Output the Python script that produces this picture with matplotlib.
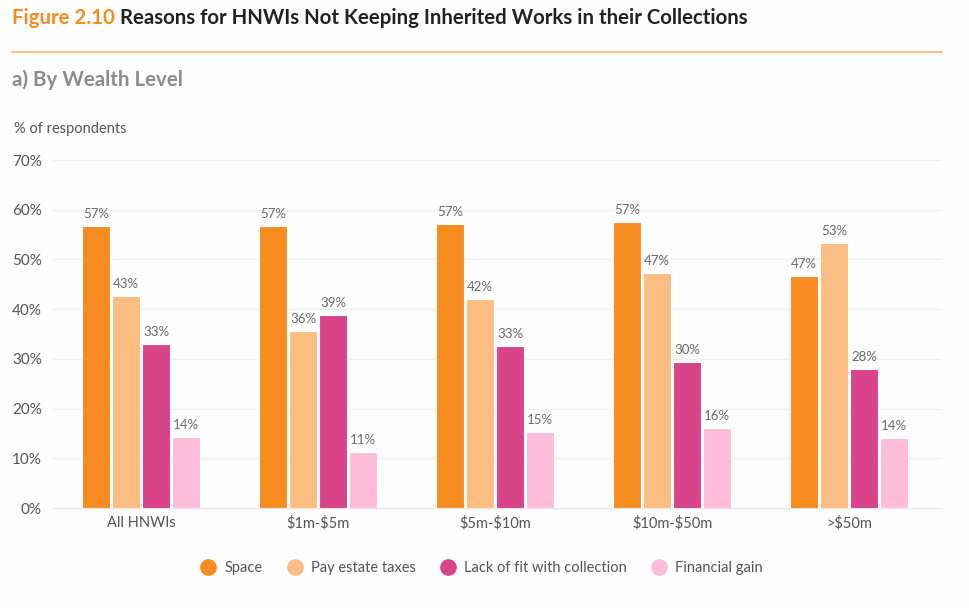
import numpy as np
import matplotlib.pyplot as plt
from matplotlib.lines import Line2D

categories = ['All HNWIs', '\\$1m-\\$5m', '\\$5m-\\$10m', '\\$10m-\\$50m', '>\\$50m']
series_names = ['Space', 'Pay estate taxes', 'Lack of fit with collection', 'Financial gain']
space = [56.7, 56.7, 57.1, 57.5, 46.7]
estate = [42.7, 35.7, 42.1, 47.3, 53.3]
lack_fit = [32.9, 38.8, 32.5, 29.4, 28.0]
fin_gain = [14.2, 11.2, 15.3, 16.1, 14.0]
labels = [[57, 57, 57, 57, 47],
          [43, 36, 42, 47, 53],
          [33, 39, 33, 30, 28],
          [14, 11, 15, 16, 14]]
colors = ['#F68B1F', '#FBBD82', '#D9438A', '#FDBDD9']

plt.rcParams['font.family'] = ['Lato', 'DejaVu Sans']

fig = plt.figure(figsize=(9.69, 6.08), dpi=100)
fig.patch.set_facecolor('#FDFDFD')
ax = fig.add_axes([53/969, 1-508/608, (942-53)/969, (508-160)/608])
ax.set_facecolor('#FDFDFD')

x = np.arange(len(categories))
step = 0.17
width = 0.155
values = [space, estate, lack_fit, fin_gain]
for i, (vals, col, name) in enumerate(zip(values, colors, series_names)):
    xs = x + (i - 1.5) * step
    ax.bar(xs, vals, width=width, color=col, edgecolor='white', linewidth=0.8, zorder=3, label=name)
    for xi, v, lab in zip(xs, vals, labels[i]):
        ax.text(xi, v + 1.2, f'{lab}%', ha='center', va='bottom', fontsize=9.5, color='#6b6b6b')

ax.set_ylim(0, 70)
ax.set_xlim(-0.497, 4.525)
ax.set_yticks(range(0, 71, 10))
ax.set_yticklabels([f'{t}%' for t in range(0, 71, 10)], fontsize=11, color='#555555')
ax.set_xticks(x)
ax.set_xticklabels(categories, fontsize=10.5, color='#555555')
ax.tick_params(axis='both', length=0, pad=6)
ax.yaxis.set_tick_params(pad=8)
ax.grid(axis='y', color='#EEEEEE', linewidth=0.9, zorder=0)
for s in ['top', 'right', 'left']:
    ax.spines[s].set_visible(False)
ax.spines['bottom'].set_color('#E6E6E6')

# header
fig.text(12/969, 1-18/608, 'Figure 2.10', fontsize=14.7, fontweight='bold', color='#F68B1F', va='center', ha='left')
fig.text(120/969, 1-18/608, 'Reasons for HNWIs Not Keeping Inherited Works in their Collections',
         fontsize=14.7, fontweight='bold', color='#222222', va='center', ha='left')
fig.add_artist(Line2D([12/969, 942/969], [1-52/608, 1-52/608], color='#FBB36B', linewidth=1.2))
fig.text(12/969, 1-80/608, 'a) By Wealth Level', fontsize=14.8, fontweight='bold', color='#8C8C8C', va='center', ha='left')
fig.text(14/969, 1-129/608, '% of respondents', fontsize=10.5, color='#555555', va='center', ha='left')

handles = [Line2D([0], [0], marker='o', linestyle='', markersize=11, markerfacecolor=c, markeredgecolor=c)
           for c in colors]
fig.legend(handles, series_names, loc='center', bbox_to_anchor=(478/969, 1-568/608), ncol=4,
           frameon=False, fontsize=10.5, labelcolor='#555555', handletextpad=0.1, columnspacing=1.2)

fig.savefig('out.png', dpi=100, facecolor=fig.get_facecolor())
